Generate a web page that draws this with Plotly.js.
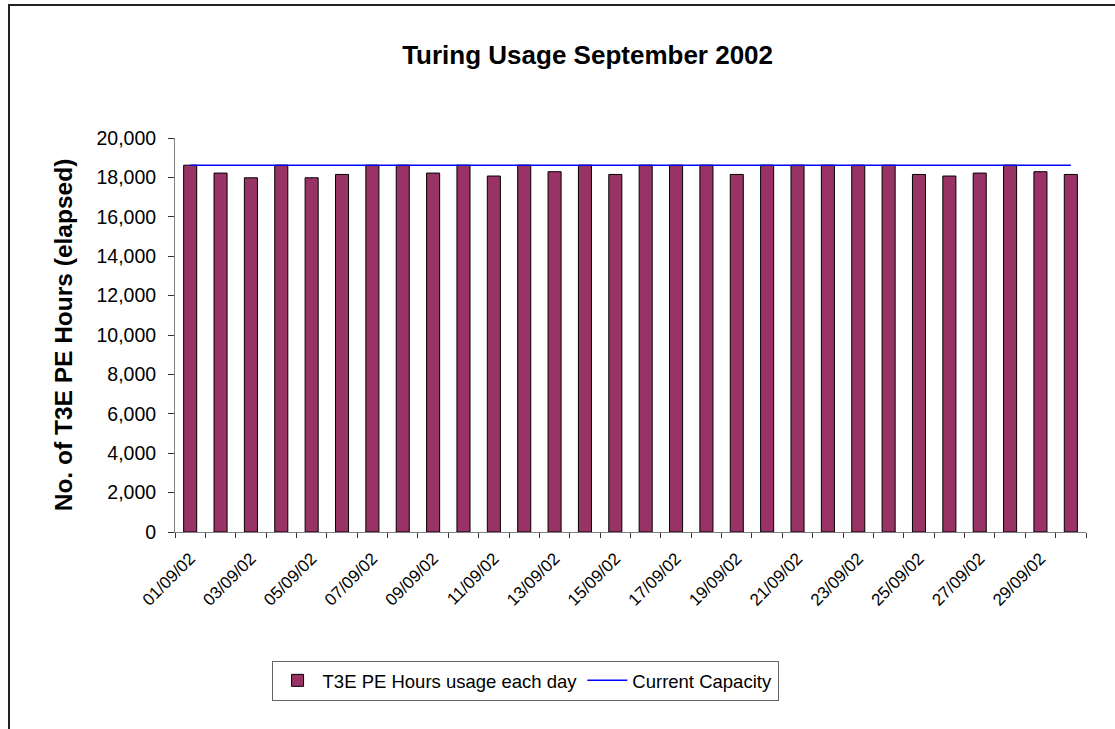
<!DOCTYPE html>
<html>
<head>
<meta charset="utf-8">
<script src="https://cdn.plot.ly/plotly-3.0.1.min.js"></script>
<style>
  body { margin: 0; overflow: hidden; background: #fff; }
  #plot { position: absolute; left: 0; top: 0; width: 1115px; height: 729px; }
  #frame { position: absolute; left: 8px; top: 4px; width: 2000px; height: 2000px;
           border-left: 2px solid #222; border-top: 2px solid #222; pointer-events: none; }
</style>
</head>
<body>
<div id="plot"></div>
<div id="frame"></div>
<script>
// days of September 2002
let days = []
for (let d = 1; d <= 30; d++) {
  days.push((d < 10 ? '0' + d : '' + d) + '/09/02')
}

// PE hours used each day
let usage = [
  18620, 18220, 17980, 18620, 17980, 18150, 18620, 18620, 18220, 18620,
  18070, 18620, 18290, 18620, 18150, 18620, 18620, 18620, 18150, 18620,
  18620, 18620, 18620, 18620, 18150, 18070, 18220, 18620, 18290, 18150
]

// capacity line
let capacity = days.map(() => 18620)

// label every other day
let tickText = days.map((d, i) => (i % 2 === 0 ? d : ''))

var trace1 = {
  x: days,
  y: usage,
  type: 'bar',
  name: 'T3E PE Hours usage each day',
  marker: {
    color: '#993366',
    line: { color: '#000', width: 1 }
  }
};

var trace2 = {
  x: days,
  y: capacity,
  type: 'scatter',
  mode: 'lines',
  name: 'Current Capacity',
  line: { color: '#0000ff', width: 1.5 }
};

var data = [trace1, trace2];

var layout = {
  width: 1115,
  height: 729,
  margin: { l: 175, r: 29, t: 138, b: 197 },
  paper_bgcolor: '#fff',
  plot_bgcolor: '#fff',
  font: { family: 'Liberation Sans, Arial, sans-serif', color: '#000' },
  bargap: 0.57,
  showlegend: true,
  title: {
    text: '<b>Turing Usage September 2002</b>',
    font: { size: 26, color: '#000' },
    x: 0.527,
    xanchor: 'center',
    xref: 'container',
    y: 0.925,
    yanchor: 'middle',
    yref: 'container'
  },
  xaxis: {
    type: 'category',
    tickvals: days,
    ticktext: tickText,
    tickangle: -45,
    tickson: 'boundaries',
    ticks: 'outside',
    ticklen: 5,
    tickcolor: '#333',
    ticklabelstandoff: 9,
    tickfont: { size: 17 },
    showline: true,
    linecolor: '#808080',
    linewidth: 1,
    showgrid: false,
    zeroline: false,
    fixedrange: true
  },
  yaxis: {
    range: [0, 20000],
    dtick: 2000,
    tickformat: ',d',
    ticks: 'outside',
    ticklen: 6,
    tickcolor: '#333',
    ticklabelstandoff: 8,
    tickfont: { size: 19.5 },
    showline: true,
    linecolor: '#808080',
    linewidth: 1,
    showgrid: false,
    zeroline: false,
    title: {
      text: '<b>No. of T3E PE Hours (elapsed)</b>',
      font: { size: 24.5 },
      standoff: 16
    }
  },
  // second axis only draws the inner half of the crossing ticks
  yaxis2: {
    overlaying: 'y',
    anchor: 'x',
    side: 'left',
    range: [0, 20000],
    dtick: 2000,
    ticks: 'inside',
    ticklen: 6,
    tickcolor: '#333',
    showticklabels: false,
    showline: false,
    showgrid: false,
    zeroline: false
  },
  legend: {
    orientation: 'h',
    x: 0.106,
    xanchor: 'left',
    y: -0.327,
    yanchor: 'top',
    bordercolor: '#666',
    borderwidth: 1,
    itemwidth: 40,
    font: { size: 18.5 },
    traceorder: 'normal'
  }
};

Plotly.newPlot('plot', data, layout, { displayModeBar: false, staticPlot: true });
</script>
</body>
</html>
